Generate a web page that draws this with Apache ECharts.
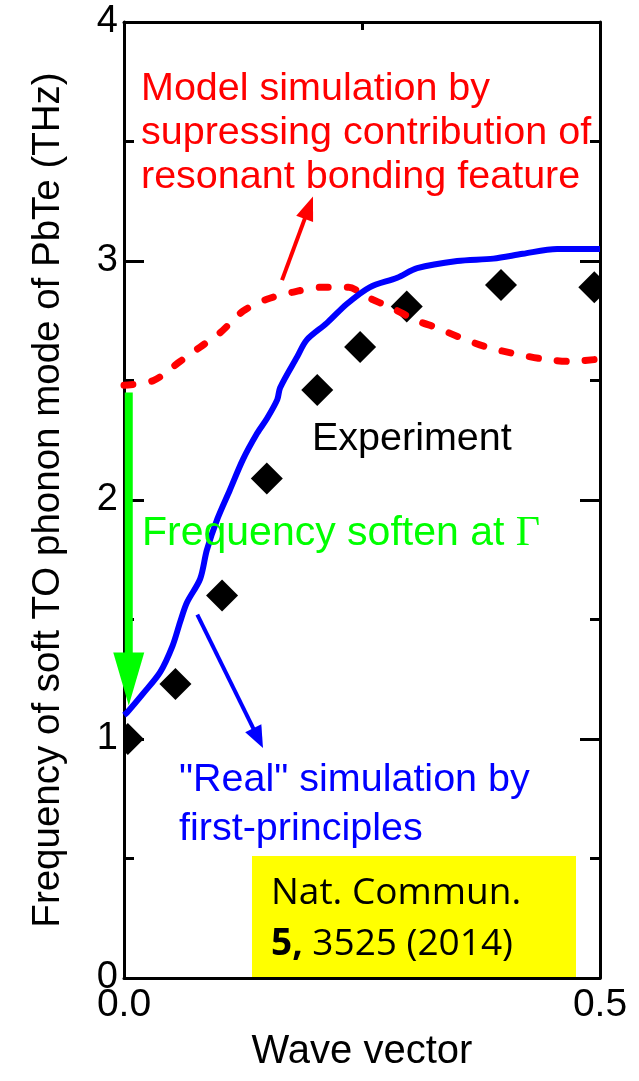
<!DOCTYPE html>
<html>
<head>
<meta charset="utf-8">
<title>Soft TO phonon mode of PbTe</title>
<script src="https://cdn.jsdelivr.net/npm/echarts@6/dist/echarts.min.js"></script>
<style>
  html, body { margin: 0; padding: 0; background: #ffffff; }
  #chart { width: 639px; height: 1081px; }
</style>
</head>
<body>
<div id="chart"></div>
<script>
// First-principles ("real") dispersion of the soft TO mode
const firstPrinciplesQ = [0.000, 0.003, 0.020, 0.038, 0.051, 0.059, 0.066, 0.080, 0.087, 0.098, 0.111, 0.125, 0.140, 0.150, 0.161, 0.164, 0.182, 0.192, 0.213, 0.234, 0.258, 0.287, 0.308, 0.350, 0.388, 0.419, 0.455, 0.500];
const firstPrinciplesF = [1.10, 1.11, 1.19, 1.28, 1.39, 1.49, 1.57, 1.67, 1.79, 1.92, 2.04, 2.17, 2.28, 2.34, 2.42, 2.47, 2.60, 2.67, 2.74, 2.82, 2.89, 2.93, 2.97, 3.00, 3.01, 3.03, 3.05, 3.05];

// Model with the resonant-bonding contribution suppressed
const modelQ = [0.000, 0.031, 0.059, 0.080, 0.101, 0.125, 0.150, 0.178, 0.206, 0.236, 0.255, 0.283, 0.308, 0.329, 0.353, 0.381, 0.413, 0.440, 0.468, 0.500];
const modelF = [2.48, 2.50, 2.58, 2.64, 2.70, 2.79, 2.84, 2.87, 2.89, 2.89, 2.85, 2.80, 2.75, 2.72, 2.68, 2.64, 2.61, 2.59, 2.58, 2.59];

// Measured points
const experimentQ = [0.004, 0.054, 0.103, 0.150, 0.203, 0.248, 0.297, 0.396, 0.494];
const experimentF = [1.00, 1.23, 1.60, 2.09, 2.46, 2.64, 2.81, 2.90, 2.89];

// Tick labels
const yTickLabels = [0, 1, 2, 3, 4];
const xTickLabels = [0, 0.5];

// Annotation arrows: [fromQ, fromF, toQ, toF]
const softenArrow = [0.005, 2.45, 0.005, 1.14];
const realArrow = [0.077, 1.52, 0.146, 0.962];
const modelArrow = [0.166, 2.92, 0.1985, 3.27];

const SANS = '"Liberation Sans", Arial, sans-serif';
const SERIF = '"Liberation Serif", "Times New Roman", serif';
const BOXFONT = '"Open Sans", sans-serif';

const zip = (xs, ys) => xs.map((x, i) => [x, ys[i]]);

function arrowSeries(name, seg, color, shaftWidth, headLen, headWidth) {
  return {
    type: 'custom',
    name: name,
    coordinateSystem: 'cartesian2d',
    clip: false,
    silent: true,
    z: 6,
    data: [seg],
    dimensions: ['q0', 'f0', 'q1', 'f1'],
    encode: { x: [0, 2], y: [1, 3] },
    renderItem: function (params, api) {
      const a = api.coord([api.value(0), api.value(1)]);
      const b = api.coord([api.value(2), api.value(3)]);
      const dx = b[0] - a[0], dy = b[1] - a[1];
      const len = Math.hypot(dx, dy);
      const ux = dx / len, uy = dy / len;
      const nx = -uy, ny = ux;
      const bx = b[0] - ux * headLen, by = b[1] - uy * headLen;
      return {
        type: 'group',
        children: [
          {
            type: 'line',
            shape: { x1: a[0], y1: a[1], x2: bx + ux * 2, y2: by + uy * 2 },
            style: { stroke: color, lineWidth: shaftWidth, lineCap: 'butt' }
          },
          {
            type: 'polygon',
            shape: {
              points: [
                [b[0], b[1]],
                [bx + nx * headWidth / 2, by + ny * headWidth / 2],
                [bx - nx * headWidth / 2, by - ny * headWidth / 2]
              ]
            },
            style: { fill: color }
          }
        ]
      };
    }
  };
}

const axisLineStyle = { color: '#000', width: 3 };

function yAxisDef(position, showLabels) {
  return {
    type: 'value',
    position: position,
    min: 0,
    max: 4,
    interval: 1,
    axisLine: { show: true, onZero: false, lineStyle: axisLineStyle },
    axisTick: { show: true, inside: true, length: 20, lineStyle: { color: '#000', width: 3 } },
    minorTick: { show: true, splitNumber: 2, length: 10, lineStyle: { color: '#000', width: 3 } },
    splitLine: { show: false },
    minorSplitLine: { show: false },
    axisLabel: {
      show: showLabels,
      color: '#000',
      fontFamily: SANS,
      fontSize: 38,
      margin: 6,
      formatter: v => (yTickLabels.indexOf(v) >= 0 ? String(v) : '')
    },
    name: showLabels ? 'Frequency of soft TO phonon mode of PbTe (THz)' : '',
    nameLocation: 'middle',
    nameGap: 56,
    nameTextStyle: { color: '#000', fontFamily: SANS, fontSize: 38.5 }
  };
}

function xAxisDef(position, showLabels) {
  return {
    type: 'value',
    position: position,
    min: 0,
    max: 0.5,
    interval: 0.25,
    axisLine: { show: true, onZero: false, lineStyle: axisLineStyle },
    axisTick: { show: true, inside: true, length: 8, lineStyle: { color: '#000', width: 3 } },
    splitLine: { show: false },
    axisLabel: {
      show: showLabels,
      color: '#000',
      fontFamily: SANS,
      fontSize: 39,
      margin: 8,
      formatter: v => (xTickLabels.indexOf(v) >= 0 ? v.toFixed(1) : '')
    },
    name: showLabels ? 'Wave vector' : '',
    nameLocation: 'middle',
    nameGap: 54,
    nameTextStyle: { color: '#000', fontFamily: SANS, fontSize: 40 }
  };
}

function label(x, y, text, color, size) {
  return {
    type: 'text', x: x, y: y, z: 20,
    style: { text: text, fill: color, fontFamily: SANS, fontSize: size, verticalAlign: 'middle' }
  };
}

const chart = echarts.init(document.getElementById('chart'), null, { renderer: 'canvas' });

chart.setOption({
  animation: false,
  backgroundColor: '#ffffff',
  grid: { left: 124, right: 39, top: 22, bottom: 103, containLabel: false },
  xAxis: [xAxisDef('bottom', true), xAxisDef('top', false)],
  yAxis: [yAxisDef('left', true), yAxisDef('right', false)],
  series: [
    {
      type: 'custom',
      name: 'Experiment',
      coordinateSystem: 'cartesian2d',
      clip: true,
      z: 2,
      data: zip(experimentQ, experimentF),
      renderItem: function (params, api) {
        const p = api.coord([api.value(0), api.value(1)]);
        const s = 16;
        return {
          type: 'polygon',
          shape: { points: [[p[0], p[1] - s], [p[0] + s, p[1]], [p[0], p[1] + s], [p[0] - s, p[1]]] },
          style: { fill: '#000000' }
        };
      }
    },
    {
      type: 'line',
      name: 'Model simulation',
      data: zip(modelQ, modelF),
      smooth: 0.3,
      symbol: 'none',
      z: 3,
      lineStyle: { color: '#ff0000', width: 7, type: [9, 19], cap: 'round' }
    },
    {
      type: 'line',
      name: 'First-principles',
      data: zip(firstPrinciplesQ, firstPrinciplesF),
      smooth: 0.3,
      symbol: 'none',
      z: 4,
      lineStyle: { color: '#0000ff', width: 6 }
    },
    arrowSeries('soften', softenArrow, '#00ff00', 8, 53, 31),
    arrowSeries('real', realArrow, '#0000ff', 4, 22, 18),
    arrowSeries('model', modelArrow, '#ff0000', 4, 24, 18)
  ],
  graphic: [
    label(141, 89, 'Model simulation by', '#ff0000', 39.5),
    label(141, 133, 'supressing contribution of', '#ff0000', 39.5),
    label(141, 177, 'resonant bonding feature', '#ff0000', 39.5),
    label(312, 439, 'Experiment', '#000000', 39.5),
    {
      type: 'text', x: 142, y: 534, z: 20,
      style: {
        text: '{a|Frequency soften at }{g|Γ}',
        verticalAlign: 'middle',
        rich: {
          a: { fill: '#00ff00', fontFamily: SANS, fontSize: 41 },
          g: { fill: '#00ff00', fontFamily: SERIF, fontSize: 42 }
        }
      }
    },
    label(179, 780, '"Real" simulation by', '#0000ff', 39.5),
    label(179, 829, 'first-principles', '#0000ff', 39.5),
    { type: 'rect', z: 30, shape: { x: 252, y: 856, width: 324, height: 121 }, style: { fill: '#ffff00' } },
    {
      type: 'text', x: 271, y: 893, z: 31,
      style: { text: 'Nat. Commun.', fill: '#000000', fontFamily: BOXFONT, fontSize: 37, verticalAlign: 'middle' }
    },
    {
      type: 'text', x: 271, y: 944, z: 31,
      style: {
        text: '{b|5,}{n| 3525 (2014)}',
        verticalAlign: 'middle',
        rich: {
          b: { fill: '#000000', fontFamily: BOXFONT, fontSize: 37, fontWeight: 'bold' },
          n: { fill: '#000000', fontFamily: BOXFONT, fontSize: 37 }
        }
      }
    }
  ]
});
</script>
</body>
</html>
